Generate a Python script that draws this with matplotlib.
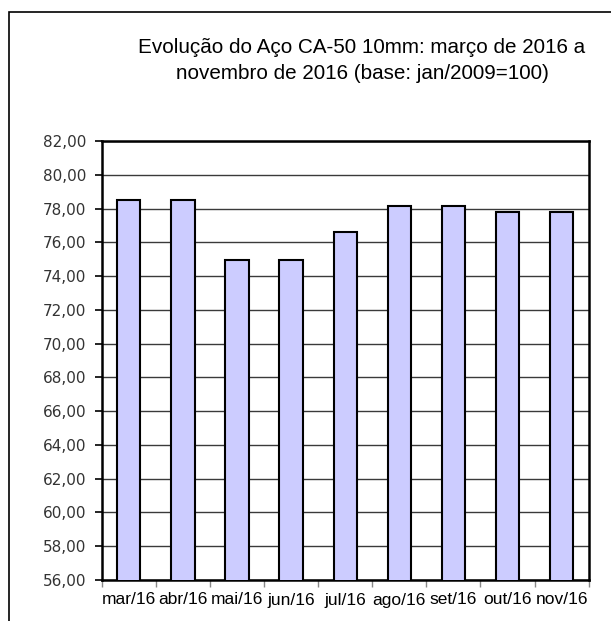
import numpy as np
import matplotlib.pyplot as plt
from matplotlib.patches import Rectangle
from matplotlib.ticker import FixedLocator, FuncFormatter

meses = ['mar/16', 'abr/16', 'mai/16', 'jun/16', 'jul/16',
         'ago/16', 'set/16', 'out/16', 'nov/16']
valores = [78.49, 78.49, 74.97, 74.97, 76.63, 78.15, 78.15, 77.82, 77.82]
titulo = 'Evolução do Aço CA-50 10mm: março de 2016 a\nnovembro de 2016 (base: jan/2009=100)'

fig = plt.figure(figsize=(6.11, 6.21), dpi=100)
ax = fig.add_axes([101.7 / 611, 1 - 580 / 621, 487 / 611, 439 / 621])

x = np.arange(len(meses))
ax.bar(x, valores, width=0.43, color='#CCCCFF', edgecolor='black',
       linewidth=1.5, zorder=3)

ax.set_ylim(56, 82)
ax.set_xlim(-0.5, len(meses) - 0.5)
ax.set_yticks(np.arange(56, 82.1, 2))
ax.yaxis.set_major_formatter(FuncFormatter(lambda v, p: f'{v:.2f}'.replace('.', ',')))
ax.grid(axis='y', color='#3a3a3a', linewidth=1.0, zorder=1)

ax.set_xticks(x)
ax.set_xticklabels(meses, fontfamily='Liberation Sans', fontsize=12.5)
ax.xaxis.set_minor_locator(FixedLocator(np.arange(-0.5, len(meses), 1.0)))
ax.tick_params(axis='x', which='major', length=0, pad=9)
ax.tick_params(axis='x', which='minor', length=5, color='#888888', width=1)
ax.tick_params(axis='y', length=5, width=1.2, color='black', pad=6)
for lbl in ax.get_yticklabels():
    lbl.set_fontfamily('DejaVu Sans')
    lbl.set_fontsize(11)
    lbl.set_color('#333333')

for s in ax.spines.values():
    s.set_linewidth(1.8)
    s.set_color('black')

fig.text(362 / 611, 1 - 60.5 / 621, titulo, ha='center', va='center',
         fontfamily='Liberation Sans', fontsize=14.9, linespacing=1.45)

# moldura externa (só esquerda e topo aparecem)
fig.patches.append(Rectangle((9 / 611, -0.2), 1.2, 1 - 12 / 621 + 0.2,
                             transform=fig.transFigure, fill=False,
                             edgecolor='black', linewidth=1.2))

fig.savefig('out.png', dpi=100)
